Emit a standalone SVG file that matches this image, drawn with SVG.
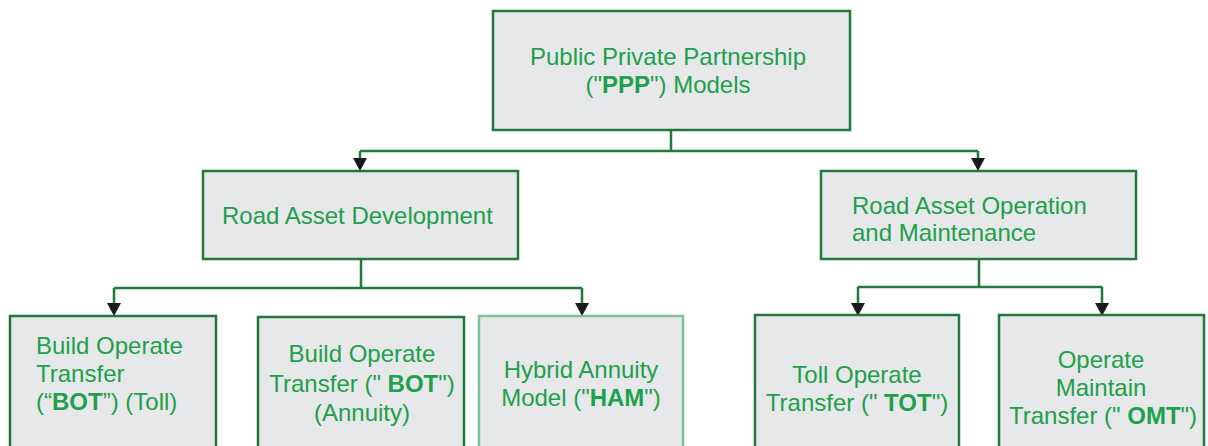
<svg xmlns="http://www.w3.org/2000/svg" width="1208" height="446" viewBox="0 0 1208 446">
<style>
.box{fill:#e7e8ea;stroke:#1f7a3c;stroke-width:2.5}
.boxl{fill:#e7e8ea;stroke:#7cc593;stroke-width:2.5}
.t{font-family:"Liberation Sans",Arial,sans-serif;font-size:24px;fill:#21a04b}
.c{text-anchor:middle}
.b{font-weight:bold}
.ln{fill:none;stroke:#1f7a3c;stroke-width:2.5}
</style>
<rect width="1208" height="446" fill="#ffffff"/>
<g id="connectors">
<path class="ln" d="M671,130 V151 M360,151 H978"/>
<path class="ln" d="M361,259 V288 M114,288 H582 M979,259 V287 M858,287 H1102"/>
<path class="ln" d="M360,151 V160 M978,151 V160 M114,288 V305 M582,288 V305 M858,287 V305 M1102,287 V305"/>
<g fill="#1a1a1a">
<path d="M353,158 L367,158 L360,171 Z"/>
<path d="M971,158 L985,158 L978,171 Z"/>
<path d="M107,303 L121,303 L114,316 Z"/>
<path d="M575,303 L589,303 L582,316 Z"/>
<path d="M851,303 L865,303 L858,316 Z"/>
<path d="M1095,303 L1109,303 L1102,316 Z"/>
</g>
</g>
<g id="ppp">
<rect class="box" x="493" y="11" width="357" height="119"/>
<text class="t c" x="668" y="65">Public Private Partnership</text>
<text class="t c" x="668" y="93">("<tspan class="b">PPP</tspan>") Models</text>
</g>
<g id="rad">
<rect class="box" x="203" y="171" width="315" height="88"/>
<text class="t" x="222" y="224">Road Asset Development</text>
</g>
<g id="raom">
<rect class="box" x="821" y="171" width="315" height="88"/>
<text class="t" x="852" y="214">Road Asset Operation</text>
<text class="t" x="852" y="241">and Maintenance</text>
</g>
<g id="bot-toll">
<rect class="box" x="10" y="316" width="206" height="140"/>
<text class="t" x="36" y="354">Build Operate</text>
<text class="t" x="36" y="382">Transfer</text>
<text class="t" x="36" y="410">(“<tspan class="b">BOT</tspan>”) (Toll)</text>
</g>
<g id="bot-annuity">
<rect class="box" x="258" y="317" width="206" height="140"/>
<text class="t c" x="362" y="362">Build Operate</text>
<text class="t c" x="362" y="392">Transfer (" <tspan class="b">BOT</tspan>")</text>
<text class="t c" x="362" y="421">(Annuity)</text>
</g>
<g id="ham">
<rect class="boxl" x="479" y="316" width="204" height="140"/>
<text class="t c" x="581" y="378">Hybrid Annuity</text>
<text class="t c" x="581" y="406">Model ("<tspan class="b">HAM</tspan>")</text>
</g>
<g id="tot">
<rect class="box" x="755" y="315" width="204" height="141"/>
<text class="t c" x="857" y="383">Toll Operate</text>
<text class="t c" x="857" y="411">Transfer (" <tspan class="b">TOT</tspan>")</text>
</g>
<g id="omt">
<rect class="box" x="999" y="315" width="205" height="141"/>
<text class="t c" x="1101" y="368">Operate</text>
<text class="t c" x="1101" y="396">Maintain</text>
<text class="t c" x="1103" y="424">Transfer (" <tspan class="b">OMT</tspan>")</text>
</g>
</svg>
